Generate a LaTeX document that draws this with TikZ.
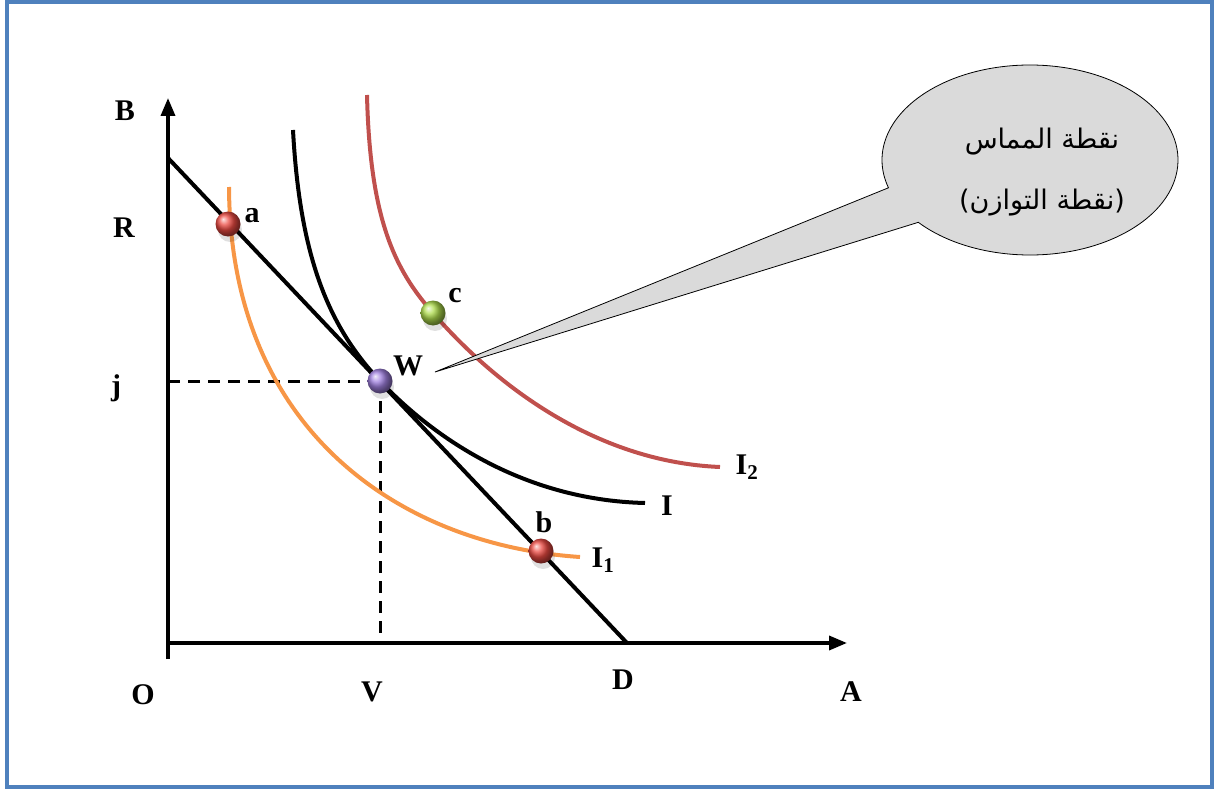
\documentclass[tikz,border=0pt]{standalone}
\usepackage{fontspec}
\setmainfont{Liberation Serif}
\newfontfamily\arabicfont[Script=Arabic]{DejaVu Sans}
\TeXXeTstate=1
\usetikzlibrary{arrows.meta,calc}
\definecolor{frameblue}{HTML}{4F81BD}
\definecolor{orangecurve}{HTML}{F79646}
\definecolor{redcurve}{HTML}{C0504D}
\definecolor{ballred}{HTML}{EC4A42}
\definecolor{ballgreen}{HTML}{AEDC4C}
\definecolor{ballpurple}{HTML}{A080E0}
\definecolor{calloutfill}{HTML}{DADADA}
\tikzset{
  axis/.style={line width=3.5pt, -{Triangle[length=18pt,width=14pt]}},
  budget/.style={line width=4pt},
  guide/.style={line width=3pt, dash pattern=on 12pt off 8pt},
  icurve/.style={line width=4pt},
  ball/.style={circle, minimum size=25pt, inner sep=0pt, shading=ball, ball color=#1},
  lab/.style={font=\bfseries\fontsize{30}{30}\selectfont, inner sep=0pt},
  artext/.style={font=\arabicfont\fontsize{27}{27}\selectfont, inner sep=0pt},
}
\begin{document}
\begin{tikzpicture}[x=1pt,y=-1pt]
\useasboundingbox (0,0) rectangle (1215,789);
\draw[frameblue, line width=4.5pt] (7,2) rectangle (1212,787);

% axes
\coordinate (O) at (168,659);
\coordinate (Atip) at (847,643);
\coordinate (Ax0) at (168,643);
\coordinate (Btip) at (168,98);
\draw[axis] (O) -- (Btip);
\draw[axis] (Ax0) -- (Atip);

% budget line
\coordinate (R0) at (168,158);
\coordinate (D0) at (627,643);
\draw[budget] (R0) -- (D0);

% points
\coordinate (Wp) at (380,381);
\coordinate (jp) at (168,381);
\coordinate (Vp) at (380,643);
\draw[guide] (jp) -- (Wp);
\draw[guide] (Wp) -- (Vp);

% indifference curves
\draw[icurve, orangecurve] (229,187) .. controls (230,430) and (400,545) .. (580,557);
\draw[icurve, black] (293,130) .. controls (300,260) and (330,328) .. (Wp)
   .. controls (430,434) and (520,500) .. (645,503);
\draw[icurve, redcurve] (367,95) .. controls (370,220) and (395,270) .. (433,313)
   .. controls (500,390) and (600,462) .. (720,467);

% callout
\coordinate (tip) at (435,372);
\coordinate (ec) at (1030,160);
\draw[black, line width=0.8pt, fill=calloutfill]
  ($(ec)+(163:148 and 95)$) -- (tip) -- ($(ec)+(139:148 and 95)$)
  arc[start angle=139, end angle=-197, x radius=148, y radius=95] -- cycle;
\node[artext] (t1) at (1042,142) {\beginR نقطة المماس\endR};
\node[artext] (t2) at (1042,203) {\beginR (نقطة التوازن)\endR};

% shadows and balls
\foreach \p in {(228,224),(541,551),(433,313),(380,381)}
  \fill[black, opacity=0.12] \p ++(2,6) circle (12pt);
\node[ball=ballred] (pa) at (228,224) {};
\node[ball=ballred] (pb) at (541,551) {};
\node[ball=ballgreen] (pc) at (433,313) {};
\node[ball=ballpurple] (pw) at (Wp) {};

% labels
\node[lab] (lB) at (125,111) {B};
\node[lab] (lR) at (124,228) {R};
\node[lab] (lj) at (116,388) {j};
\node[lab] (lO) at (143,695) {O};
\node[lab] (lV) at (372,692) {V};
\node[lab] (lD) at (623,680) {D};
\node[lab] (lA) at (851,692) {A};
\node[lab] (la) at (252,216) {a};
\node[lab] (lW) at (408,366) {W};
\node[lab] (lb) at (544,522) {b};
\node[lab] (lc) at (455,296) {c};
\node[lab] (lI2) at (747,467) {I\textsubscript{2}};
\node[lab] (lI) at (667,506) {I};
\node[lab] (lI1) at (603,560) {I\textsubscript{1}};
\end{tikzpicture}
\end{document}
